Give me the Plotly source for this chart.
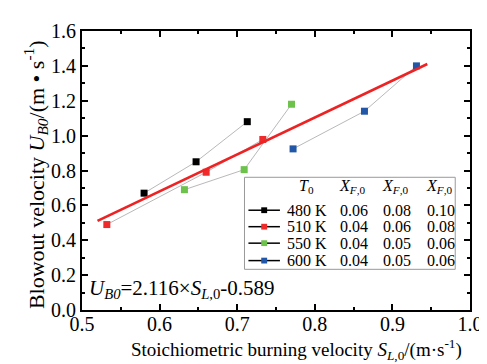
import plotly.graph_objects as go

# Data
series_names = ["480 K", "510 K", "550 K", "600 K"]
series_colors = ["#000000", "#ee2a2a", "#6cc24a", "#2256a6"]
sl_480 = [0.580, 0.647, 0.713]
ub_480 = [0.67, 0.85, 1.08]
sl_510 = [0.532, 0.660, 0.733]
ub_510 = [0.49, 0.79, 0.978]
sl_550 = [0.632, 0.709, 0.770]
ub_550 = [0.69, 0.805, 1.18]
sl_600 = [0.772, 0.864, 0.931]
ub_600 = [0.924, 1.14, 1.40]
xs = [sl_480, sl_510, sl_550, sl_600]
ys = [ub_480, ub_510, ub_550, ub_600]
xf_table = [["0.06", "0.08", "0.10"], ["0.04", "0.06", "0.08"],
            ["0.04", "0.05", "0.06"], ["0.04", "0.05", "0.06"]]
fit_slope = 2.116
fit_intercept = -0.589
fit_x = [0.52, 0.945]
fit_y = [fit_slope * v + fit_intercept for v in fit_x]
x_title = "Stoichiometric burning velocity <i>S</i><sub><i>L</i>,0</sub>/(m·s<sup>-1</sup>)"
y_title = "Blowout velocity <i>U</i><sub><i>B0</i></sub>/(m • s<sup>-1</sup>)"

FONT = "Liberation Serif"
fig = go.Figure()
for x, y, c in zip(xs, ys, series_colors):
    fig.add_trace(go.Scatter(x=x, y=y, mode="lines+markers",
                             line=dict(color="#9a9a9a", width=0.7),
                             marker=dict(symbol="square", size=7, color=c),
                             showlegend=False))
fig.add_trace(go.Scatter(x=fit_x, y=fit_y, mode="lines",
                         line=dict(color="#ee2222", width=2.6), showlegend=False))

W, H = 487, 364
L, R, T, B = 74, 468, 14, 302
def px(xp):
    return (xp - L) / (R - L)
def py(yp):
    return (B - yp) / (B - T)

annotations = []
shapes = []
# legend box
shapes.append(dict(type="rect", xref="paper", yref="paper", x0=px(239), x1=px(453),
                   y0=py(260), y1=py(165), line=dict(color="#999999", width=1),
                   fillcolor="white", layer="above"))
fs = 16
def txt(t, xp, yp, anchor="center", size=fs, angle=0):
    annotations.append(dict(text=t, xref="paper", yref="paper", x=px(xp), y=py(yp),
                            xanchor=anchor, yanchor="middle", showarrow=False,
                            textangle=angle, borderpad=0,
                            font=dict(family=FONT, size=size, color="black")))
txt("<i>T</i><sub>0</sub>", 302, 175)
for cx in [348, 392, 437]:
    txt("<i>X</i><sub><i>F</i>,0</sub>", cx, 175)
row_y = [199, 216, 233, 251]
for i, (nm, c) in enumerate(zip(series_names, series_colors)):
    yv = row_y[i]
    shapes.append(dict(type="line", xref="paper", yref="paper", x0=px(243), x1=px(275),
                       y0=py(yv), y1=py(yv), line=dict(color="black", width=1.5), layer="above"))
    shapes.append(dict(type="rect", xref="paper", yref="paper", x0=px(256), x1=px(262),
                       y0=py(yv + 3), y1=py(yv - 3), line=dict(width=0), fillcolor=c, layer="above"))
    txt(nm, 302, yv)
    for cx, v in zip([350, 394, 439], xf_table[i]):
        txt(v, cx, yv)

txt("<i>U</i><sub><i>B0</i></sub>=2.116×<i>S</i><sub><i>L</i>,0</sub>-0.589", 80, 280,
    anchor="left", size=21)
# axis titles
txt(x_title, 292, 343, size=19)
txt(y_title, 27, 162, size=22, angle=-90)

axis_common = dict(showline=True, linecolor="black", linewidth=2, mirror="ticks",
                   ticks="inside", ticklen=6, tickwidth=1.5, tickcolor="black",
                   showgrid=False, zeroline=False,
                   tickfont=dict(family=FONT, size=20, color="black"))
fig.update_layout(
    width=W, height=H, margin=dict(l=L, r=W - R, t=T, b=H - B),
    plot_bgcolor="white", paper_bgcolor="white",
    font=dict(family=FONT, color="black"),
    xaxis=dict(range=[0.5, 1.0], dtick=0.1, tickformat=".1f", ticklabelstandoff=-5,
               minor=dict(dtick=0.05, ticks="inside", ticklen=3, tickcolor="black", tickwidth=1.5),
               **axis_common),
    yaxis=dict(range=[0, 1.6], dtick=0.2, tickformat=".1f",
               minor=dict(dtick=0.1, ticks="inside", ticklen=3, tickcolor="black", tickwidth=1.5),
               **axis_common),
    shapes=shapes, annotations=annotations,
)
fig.write_html("out.html")
